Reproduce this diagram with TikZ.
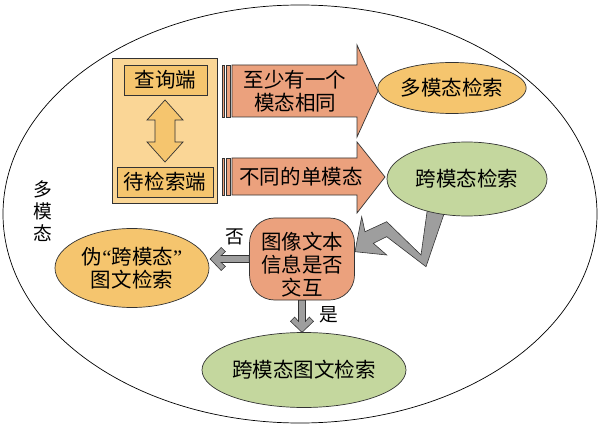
\documentclass[tikz,border=0pt]{standalone}
\usepackage{fontspec}
\setmainfont{Noto Sans CJK SC}
\newfontfamily\quotefont{Liberation Serif}
\usetikzlibrary{positioning, shapes.geometric}
\definecolor{boxyellow}{RGB}{250,214,150}
\definecolor{deepyellow}{RGB}{245,197,110}
\definecolor{salmon}{RGB}{235,161,125}
\definecolor{sage}{RGB}{196,215,158}
\definecolor{arrowgray}{RGB}{158,158,158}
\tikzset{
  every node/.style={font=\fontsize{17.5}{19.5}\selectfont, align=center, inner sep=1pt},
  edgeline/.style={draw=black!80, line width=0.6pt},
  endbox/.style={edgeline, fill=deepyellow, minimum height=0.9cm},
  result/.style={ellipse, edgeline},
  blockarrow/.style={edgeline, fill=salmon},
  grayarrow/.style={draw=black!80, line width=0.5pt, fill=arrowgray},
  caption/.style={font=\fontsize{16}{18.5}\selectfont},
}

\begin{document}
\begin{tikzpicture}[x=0.03cm, y=-0.03cm]
  \useasboundingbox (0,0) rectangle (600,427);
  \draw[line width=0.6pt] (300,214) ellipse [x radius=297, y radius=209];

  % query and target side
  \node[edgeline, fill=boxyellow, minimum width=3.15cm, minimum height=4.35cm] (side) at (164.5,130.5) {};
  \node[endbox, minimum width=2.49cm] (query) at (165.5,80) {查询端};
  \node[endbox, minimum width=2.88cm] (target) at (165,182) {待检索端};
  \draw[edgeline, fill=deepyellow] (165,100) -- (183,120) -- (175,120) -- (175,142) -- (183,142)
    -- (165,162) -- (147,142) -- (155,142) -- (155,120) -- (147,120) -- cycle;

  % striped arrows
  \draw[blockarrow] (222,65) rectangle (224.5,117);
  \draw[blockarrow] (226.5,65) rectangle (230,117);
  \draw[blockarrow] (232,65) -- (357,65) -- (357,45) -- (378,91) -- (357,137) -- (357,117) -- (232,117) -- cycle;
  \node (same) at (295,91) {至少有一个\\模态相同};

  \draw[blockarrow] (222,158) rectangle (224.5,195);
  \draw[blockarrow] (226.5,158) rectangle (230,195);
  \draw[blockarrow] (232,158) -- (357,158) -- (357,142) -- (385,177) -- (357,213) -- (357,195) -- (232,195) -- cycle;
  \node (diff) at (301,177) {不同的单模态};

  % zigzag arrow
  \draw[grayarrow] (428,205) -- (446,208) -- (426,266.7) -- (386.7,236.7) -- (373.3,243.3) -- (386.7,255)
    -- (355,251.7) -- (361.7,216.7) -- (365,231.7) -- (386.7,221.7) -- (421,255) -- cycle;

  \node[result, fill=deepyellow, minimum width=4.05cm, minimum height=1.53cm] (multi) at (452,88) {多模态检索};
  \node[result, fill=sage, minimum width=4.8cm, minimum height=2.22cm] (cross) at (467,179) {跨模态检索};
  \node[edgeline, fill=salmon, rounded corners=0.75cm, minimum width=3.15cm, minimum height=2.46cm] (judge) at (302,259) {};
  \node (judgetext) at (302,264.5) {图像文本\\信息是否\\交互};
  \node[result, fill=deepyellow, inner xsep=-6pt, minimum width=4.62cm, minimum height=2.37cm] (pseudo) at (132,268)
    {伪{\quotefont“}跨模态{\quotefont”}\\图文检索};
  \node[result, fill=sage, inner xsep=-2pt, minimum width=6.12cm, minimum height=2.25cm] (crossimg) at (304,370) {跨模态图文检索};

  \draw[grayarrow, shift={(judge.west)}] (0,-3.5) -- (-28,-3.5) -- (-23.7,-7.4) -- (-28,-11.5) -- (-39,0)
    -- (-28,11.5) -- (-23.7,7.4) -- (-28,3.5) -- (0,3.5) -- cycle;
  \draw[grayarrow, shift={(judge.south)}] (-3.5,0) -- (-3.5,21) -- (-7.4,16.7) -- (-11.5,21) -- (0,32)
    -- (11.5,21) -- (7.4,16.7) -- (3.5,21) -- (3.5,0) -- cycle;

  \node[caption] (multimodal) at (43,211) {多\\模\\态};
  \node[caption] (no) at (235,237) {否};
  \node[caption] (yes) at (329,315) {是};
\end{tikzpicture}
\end{document}
